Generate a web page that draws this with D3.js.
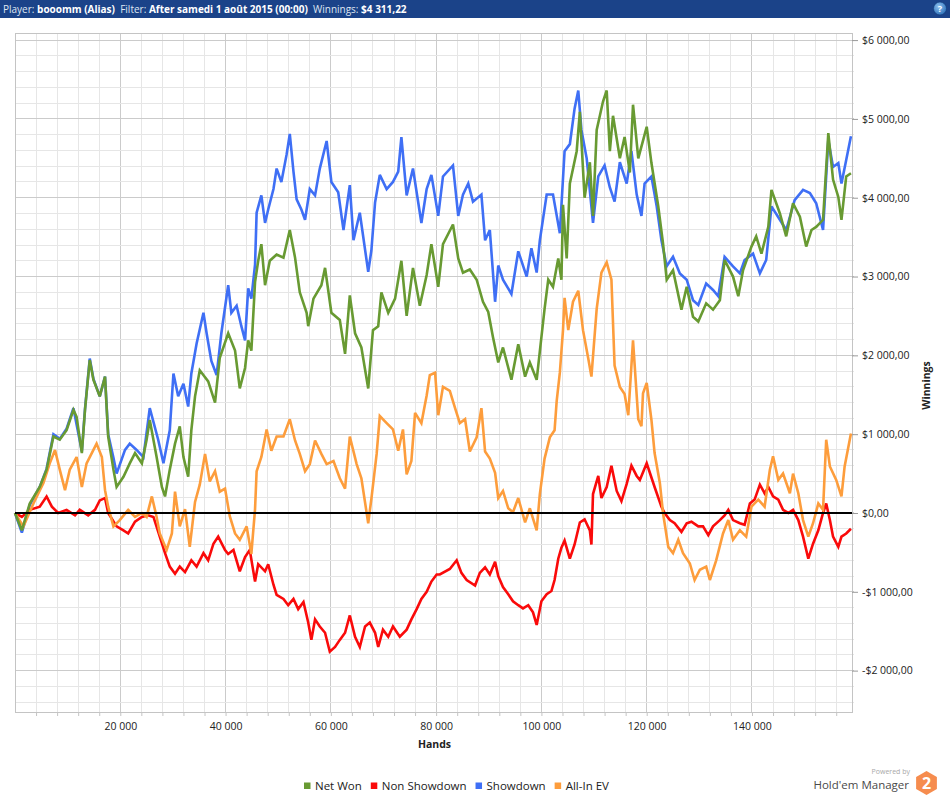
<!DOCTYPE html>
<html>
<head>
<meta charset="utf-8">
<script src="https://cdn.jsdelivr.net/npm/d3@7"></script>
<style>
  body { margin: 0; background: #fff; }
  svg { display: block; font-family: "Open Sans", sans-serif; }
</style>
</head>
<body>
<div id="graf"></div>
<script>
// values: [hands, dollars]
const netWon = [[0,0],[1300,-220],[2800,120],[4700,330],[6000,550],[7300,970],[8500,930],[9800,1050],[11100,1310],[11700,1220],[12700,760],[13300,1310],[14200,1940],[14900,1690],[16100,1480],[17100,1730],[17700,970],[18700,550],[19300,330],[20600,460],[21800,630],[22800,760],[24100,630],[25000,930],[25600,1180],[26900,710],[27900,330],[28500,210],[29400,550],[30400,880],[31300,1100],[32000,710],[32900,460],[33500,1050],[34200,1480],[35100,1810],[36700,1670],[38000,1400],[38900,1970],[40500,2280],[41800,2060],[42700,1580],[43700,1840],[44300,2190],[44900,2060],[45600,2930],[46200,3200],[46800,3410],[47500,2890],[48400,3200],[49700,3280],[51000,3240],[52200,3590],[53200,3240],[54100,2800],[55400,2540],[55700,2370],[56700,2720],[58200,2890],[58900,3110],[60100,2540],[61700,2450],[62700,2020],[63600,2760],[64600,2280],[65800,2100],[67100,1580],[68000,2320],[69000,2370],[69600,2800],[70900,2540],[72200,2720],[73400,3200],[74400,2500],[75600,3110],[76900,2630],[78200,3020],[79100,3410],[80400,2870],[81300,3410],[83200,3660],[84200,3230],[85100,3050],[86400,3090],[87700,2960],[88900,2680],[89900,2550],[90800,2230],[91800,1910],[92700,2100],[94300,1690],[95600,2140],[96900,1730],[97800,1910],[99100,1690],[99700,2050],[100600,2590],[101300,2960],[102200,2870],[103200,3230],[103800,2960],[104100,3910],[104800,3230],[105400,4180],[106700,4590],[107300,5090],[108200,4000],[109200,4450],[109800,3770],[110500,4860],[111700,5220],[112400,5360],[113000,4590],[113600,5040],[114900,4500],[115800,4770],[116800,4320],[117400,5180],[118400,4500],[120000,4900],[120900,4440],[122200,3890],[123100,3420],[123800,2960],[125000,3080],[126600,2580],[127600,2870],[128800,2490],[129800,2430],[131300,2660],[132600,2580],[133900,2700],[134800,3210],[136400,3000],[137400,2750],[138300,3080],[139900,3380],[140800,3510],[141800,3290],[143100,3630],[143700,4100],[145300,3800],[146500,3510],[147800,3930],[149100,3760],[150300,3380],[151300,3590],[152200,3630],[153500,3720],[154500,4820],[155400,4230],[156400,4010],[157000,3720],[157900,4270],[158800,4311]];

const nonShowdown = [[0,0],[1300,-50],[2800,40],[4700,80],[6000,210],[7000,80],[8200,0],[9800,40],[11400,-30],[12300,40],[13900,-30],[15200,40],[16100,160],[17100,190],[17700,0],[19300,-170],[20600,-220],[21500,-260],[22800,-110],[24100,-50],[25300,-30],[26300,-50],[27500,-300],[28500,-510],[29400,-680],[30400,-770],[31300,-680],[32300,-750],[33500,-600],[34500,-680],[35800,-510],[36700,-600],[37700,-390],[38600,-300],[39900,-470],[40500,-520],[41500,-470],[42700,-740],[43700,-560],[44600,-470],[45600,-870],[46200,-650],[47500,-740],[48100,-650],[49100,-910],[49700,-1040],[51000,-1090],[51900,-1170],[52900,-1090],[53800,-1220],[54800,-1130],[55700,-1390],[56300,-1610],[57000,-1350],[57900,-1440],[58900,-1520],[59800,-1760],[60800,-1700],[61700,-1610],[62700,-1520],[63600,-1300],[64600,-1570],[65500,-1700],[66500,-1440],[67400,-1390],[68400,-1520],[69000,-1700],[69900,-1480],[70900,-1570],[71800,-1440],[73100,-1570],[74400,-1480],[75300,-1350],[76300,-1220],[77200,-1090],[78200,-1000],[79100,-870],[80100,-780],[80700,-780],[82600,-710],[83900,-600],[84800,-760],[85800,-850],[87400,-920],[88300,-760],[89300,-690],[90200,-780],[91200,-620],[91800,-800],[92700,-940],[93700,-1030],[94600,-1120],[95600,-1170],[96500,-1210],[97500,-1170],[98400,-1260],[99100,-1420],[100000,-1120],[101000,-1030],[101900,-990],[102500,-850],[103200,-580],[103800,-440],[104400,-350],[105400,-580],[106300,-400],[107300,-120],[108200,-80],[109200,-220],[109500,-400],[109800,240],[110800,470],[111400,190],[112400,330],[113300,600],[114300,280],[115200,150],[116200,370],[117100,600],[118100,470],[118700,420],[120000,630],[121500,330],[122800,80],[123400,0],[124400,-90],[125300,-130],[126600,-240],[127600,-130],[128500,-110],[129800,-170],[130700,-170],[131700,-280],[132600,-170],[133900,-90],[134800,-30],[135500,40],[136400,-90],[137700,-130],[138600,-150],[139600,120],[140500,170],[141500,360],[142400,250],[143100,330],[144000,210],[145000,170],[145900,40],[146900,0],[147800,40],[148800,-90],[149700,-300],[150700,-580],[151600,-390],[152600,-220],[153500,0],[154100,120],[154800,-90],[155400,-300],[156400,-430],[157000,-300],[157900,-260],[158800,-200]];

const showdown = [[0,0],[1300,-250],[2800,100],[4700,330],[6000,560],[7300,1000],[8500,940],[9800,1070],[11100,1330],[12700,780],[13300,1320],[14200,1960],[14900,1700],[16100,1480],[17100,1730],[17700,1000],[18700,700],[19300,500],[20900,800],[21800,880],[23100,800],[24400,710],[25600,1330],[27200,930],[28200,630],[29400,1050],[30100,1770],[31000,1480],[32000,1640],[32900,1350],[33500,1770],[34500,2150],[35800,2540],[36400,2280],[37300,1930],[38300,1750],[39200,2280],[40500,2890],[41100,2540],[42100,2630],[43000,2370],[43700,2190],[44300,2850],[44900,2720],[45600,3150],[45900,3810],[46800,4030],[47500,3680],[48100,3850],[49100,4110],[49700,4370],[50600,4200],[51600,4550],[52200,4810],[52900,4330],[53500,3980],[54400,3850],[55100,3720],[56000,4110],[57000,4030],[57900,4370],[59200,4720],[60100,4200],[61400,4070],[62400,3590],[63600,4160],[64300,3460],[65500,3810],[67100,3060],[67700,3330],[68400,3940],[69300,4290],[70600,4110],[71800,4200],[72800,4330],[73400,4770],[74400,4030],[75600,4370],[76600,3940],[77200,3680],[78200,4110],[79100,4290],[80400,3770],[81300,4270],[83200,4410],[84200,3770],[85100,4040],[86100,4180],[87000,3950],[88600,4040],[89300,3460],[90200,3590],[91200,2680],[91800,3140],[92700,2960],[94300,2780],[95600,3320],[97200,3000],[98100,3360],[99100,3050],[99700,3460],[101000,4040],[102200,4040],[103500,3550],[104400,4590],[105400,4680],[106300,5130],[107000,5360],[107600,4860],[108600,4500],[109800,3680],[110800,4270],[112000,4410],[113000,4130],[113900,3950],[114900,4450],[116200,4180],[117100,4590],[118100,4040],[119000,3770],[119600,4180],[120900,4270],[121900,3890],[122800,3460],[123800,3130],[125000,3250],[126300,3040],[127600,2960],[128800,2700],[129800,2640],[131300,2910],[132600,2830],[133600,2750],[134800,3250],[136400,3130],[137700,3040],[138600,3210],[140200,3290],[141500,3040],[142700,3210],[143700,3890],[145300,3720],[146500,3590],[148100,3970],[149700,4100],[151000,4060],[152200,3930],[153500,3590],[154500,4730],[155400,4390],[156400,4440],[157000,4180],[157900,4480],[158800,4780]];

const allInEv = [[0,0],[1600,-170],[3500,120],[5400,380],[6600,630],[7600,800],[8500,550],[9500,290],[10400,550],[11700,710],[12700,330],[13600,630],[14900,800],[15500,880],[16500,710],[17100,290],[17700,80],[18700,-170],[19900,-90],[21500,40],[22800,-50],[24100,0],[25000,-50],[26000,210],[26900,-50],[27500,-260],[28800,-470],[29800,-260],[30400,270],[31300,-170],[32300,50],[33200,-430],[34200,140],[35100,360],[36100,750],[37000,400],[38000,530],[38900,270],[39900,310],[40800,-40],[41800,-260],[42700,-340],[44000,-170],[44900,-520],[45600,50],[45900,530],[46800,710],[47800,1060],[48700,790],[49700,970],[51000,970],[52200,1190],[53200,920],[54100,750],[55100,530],[56000,620],[57000,920],[58200,750],[59200,620],[60500,660],[61700,440],[62700,310],[63600,970],[64900,620],[65800,440],[67100,-130],[67700,180],[68700,750],[69300,1230],[70600,1140],[71800,1060],[72800,790],[73700,1060],[74400,490],[75300,660],[76000,1270],[77200,1140],[78200,1490],[78800,1750],[79800,1780],[80400,1240],[81300,1600],[82600,1550],[83600,1330],[84500,1140],[85500,1190],[86400,780],[87700,960],[88600,1330],[89300,780],[90200,690],[91200,510],[91800,190],[92700,280],[93700,60],[94600,10],[95600,190],[96900,-120],[97800,60],[99100,-220],[99700,240],[100600,690],[101600,960],[102500,1050],[102900,1420],[103500,1780],[104100,2320],[104400,2730],[105100,2320],[106000,2680],[107000,2820],[107900,2320],[108900,1960],[109500,1730],[110500,2590],[111400,3050],[112400,3180],[113300,2960],[113900,1870],[114900,1600],[115800,1510],[116500,1240],[117400,2190],[118400,1190],[119000,1100],[119300,1520],[120000,1650],[120900,1180],[121500,760],[122500,380],[123100,0],[124100,-430],[125000,-510],[126000,-340],[126900,-510],[128200,-640],[129100,-850],[130100,-720],[131300,-680],[132000,-850],[133200,-600],[134500,-260],[135500,-90],[136400,-340],[137700,-220],[138900,-300],[139900,80],[141200,170],[142400,80],[143400,550],[144000,720],[145000,420],[145900,500],[147200,250],[147800,500],[148800,250],[149700,-90],[150700,-300],[151600,-130],[152600,120],[153500,40],[154100,930],[154800,590],[156000,420],[157000,210],[157600,590],[158800,1010]];

const seriesNames = ["Net Won", "Non Showdown", "Showdown", "All-In EV"];
const seriesColors = ["#689a32", "#fa0a0a", "#3f6ff5", "#fd9d3c"];
const seriesData = [netWon, nonShowdown, showdown, allInEv];
const drawOrder = [2, 1, 3, 0];

const xTicks = [20000, 40000, 60000, 80000, 100000, 120000, 140000];
const yTicks = [-2000, -1000, 0, 1000, 2000, 3000, 4000, 5000, 6000];

const headerParts = [
  ["Player: ", false], ["booomm (Alias)", true], ["  Filter: ", false],
  ["After samedi 1 août 2015 (00:00)", true], ["  Winnings: ", false], ["$4 311,22", true]
];

let width = 950, height = 799;
let plot = {left: 15, right: 852, top: 33, bottom: 712};

let x = d3.scaleLinear().domain([0, 159000]).range([plot.left, plot.right]);
let y = d3.scaleLinear().domain([-2525, 6090]).range([plot.bottom, plot.top]);

let fmtHands = d => d3.format(",d")(d).replace(/,/g, " ");
let fmtMoney = d => {
  let s = d3.format(",.2f")(Math.abs(d)).replace(/,/g, " ").replace(".", ",");
  return (d < 0 ? "-$" : "$") + s;
};

let svg = d3.select("#graf").append("svg")
  .attr("width", width)
  .attr("height", height);

// header bar
svg.append("rect").attr("x", 0).attr("y", 0).attr("width", width).attr("height", 18)
  .attr("fill", "#1b4389");

const head = svg.append("text")
  .attr("x", 3).attr("y", 12.5)
  .style("font-size", "10px");
head.selectAll("tspan")
  .data(headerParts)
  .join("tspan")
  .attr("font-weight", d => d[1] ? "bold" : "normal")
  .attr("fill", d => d[1] ? "#ffffff" : "#dfe6f2")
  .attr("xml:space", "preserve")
  .text(d => d[0]);

const grad = svg.append("defs").append("radialGradient")
  .attr("id", "helpGrad").attr("cx", "40%").attr("cy", "35%").attr("r", "70%");
grad.append("stop").attr("offset", "0%").attr("stop-color", "#8fc3f2");
grad.append("stop").attr("offset", "100%").attr("stop-color", "#2a6db5");
svg.append("circle").attr("cx", 940).attr("cy", 8.5).attr("r", 6.5)
  .attr("fill", "url(#helpGrad)").attr("stroke", "#0f3a78").attr("stroke-width", 0.6);
svg.append("text").attr("x", 940).attr("y", 12).attr("text-anchor", "middle")
  .attr("fill", "#fff").style("font-size", "9px").style("font-weight", "bold").text("?");

// grid
const grid = svg.append("g");
grid.selectAll(".vmin")
  .data(d3.range(4000, 159000, 4000))
  .join("line")
  .attr("x1", d => x(d)).attr("x2", d => x(d))
  .attr("y1", plot.top).attr("y2", plot.bottom)
  .attr("stroke", d => d % 20000 === 0 ? "#cbcbcb" : "#e6e6e6")
  .attr("shape-rendering", "crispEdges");
grid.selectAll(".hmin")
  .data(d3.range(-2400, 6001, 200))
  .join("line")
  .attr("x1", plot.left).attr("x2", plot.right + 2)
  .attr("y1", d => y(d)).attr("y2", d => y(d))
  .attr("stroke", d => d % 1000 === 0 ? "#cbcbcb" : "#e6e6e6")
  .attr("shape-rendering", "crispEdges");

svg.append("rect")
  .attr("x", plot.left).attr("y", plot.top)
  .attr("width", plot.right - plot.left).attr("height", plot.bottom - plot.top)
  .attr("fill", "none").attr("stroke", "#c4c4c4")
  .attr("shape-rendering", "crispEdges");

// axes
const xAxis = svg.append("g")
  .attr("transform", `translate(0,${plot.bottom})`)
  .call(d3.axisBottom(x).tickValues(d3.range(4000, 159000, 4000))
    .tickSize(4).tickFormat(d => xTicks.includes(d) ? fmtHands(d) : ""));
xAxis.select(".domain").remove();
xAxis.selectAll("line").attr("stroke", "#c4c4c4");
xAxis.selectAll("text").attr("dy", "1.05em").attr("fill", "#222")
  .style("font-size", "10.5px").style("font-family", "'Open Sans', sans-serif");

const yAxis = svg.append("g")
  .attr("transform", `translate(${plot.right},0)`)
  .call(d3.axisRight(y).tickValues(yTicks).tickSize(6).tickPadding(4).tickFormat(fmtMoney));
yAxis.select(".domain").remove();
yAxis.selectAll("line").attr("stroke", "#9a9a9a");
yAxis.selectAll("text").attr("fill", "#222")
  .style("font-size", "10.5px").style("font-family", "'Open Sans', sans-serif");

svg.append("text")
  .attr("x", (plot.left + plot.right) / 2 + 1).attr("y", 748)
  .attr("text-anchor", "middle").attr("fill", "#222")
  .style("font-size", "10.5px").style("font-weight", "bold").text("Hands");

svg.append("text")
  .attr("transform", `translate(930,${(plot.top + plot.bottom) / 2 + 13}) rotate(-90)`)
  .attr("text-anchor", "middle").attr("fill", "#222")
  .style("font-size", "10.5px").style("font-weight", "bold").text("Winnings");

// series
let line = d3.line().x(d => x(d[0])).y(d => y(d[1]));
svg.append("g").selectAll("path")
  .data(drawOrder)
  .join("path")
  .attr("d", i => line(seriesData[i]))
  .attr("fill", "none")
  .attr("stroke", i => seriesColors[i])
  .attr("stroke-width", 2.6)
  .attr("stroke-linejoin", "miter")
  .attr("stroke-miterlimit", 3);

svg.append("line")
  .attr("x1", plot.left).attr("x2", plot.right)
  .attr("y1", y(0)).attr("y2", y(0))
  .attr("stroke", "#000").attr("stroke-width", 2);

// legend
const legend = svg.append("g").attr("transform", "translate(304,786)");
let lx = 0;
seriesNames.forEach((name, i) => {
  const item = legend.append("g").attr("transform", `translate(${lx},0)`);
  item.append("rect").attr("x", 0).attr("y", -3.5).attr("width", 6.5).attr("height", 6.5)
    .attr("fill", seriesColors[i]);
  const t = item.append("text").attr("x", 11).attr("y", 4.2)
    .attr("fill", "#222").style("font-size", "11.5px").text(name);
  lx += 11 + t.node().getComputedTextLength() + 9;
});

// logo
svg.append("text").attr("x", 910).attr("y", 774).attr("text-anchor", "end")
  .attr("fill", "#a8a8a8").style("font-size", "7px").text("Powered by");
svg.append("text").attr("x", 909).attr("y", 789).attr("text-anchor", "end")
  .attr("fill", "#4a4a4a").style("font-size", "11.5px").text("Hold'em Manager");
const hex = d3.range(6).map(k => {
  const a = Math.PI / 3 * k + Math.PI / 6;
  return [926.5 + 12 * Math.cos(a), 783 + 12 * Math.sin(a)];
});
svg.append("polygon").attr("points", hex.map(p => p.join(",")).join(" "))
  .attr("fill", "#f68c4e");
svg.append("text").attr("x", 926.5).attr("y", 789).attr("text-anchor", "middle")
  .attr("fill", "#fff").style("font-size", "16px").style("font-weight", "bold").text("2");
</script>
</body>
</html>
